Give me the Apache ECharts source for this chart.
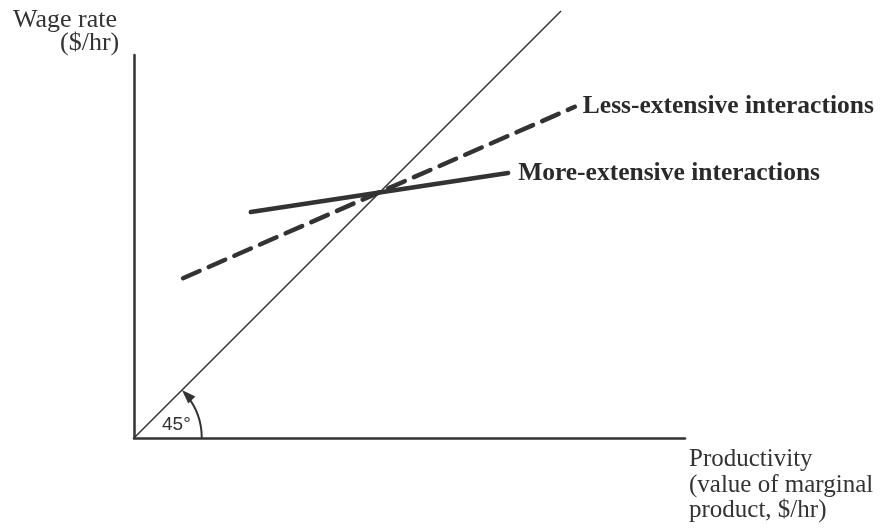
<!DOCTYPE html>
<html style="height: 100%">
<head>
    <title>Wage rate vs productivity</title>
    <meta charset="utf-8">
</head>
<body style="height: 100%; margin: 0; background: #fff">
<div id="container" style="height:528px;width:882px"></div>
<script src="https://cdn.jsdelivr.net/npm/echarts@6/dist/echarts.min.js"></script>
<script type="text/javascript">
    // data (productivity, wage rate) in arbitrary equal units
    var diagonal = [[0, 0], [77.5, 77.5]];
    var lessExtensive = [[8.9, 29.0], [80.0, 60.1]];
    var moreExtensive = [[21.2, 41.0], [67.9, 48.1]];
    var angleArc = [[0, 0, 12.3]];   // origin + radius of the 45 degree arc

    var ink = '#333';
    var serif = '"Liberation Serif", "DejaVu Serif", serif';

    var dom = document.getElementById("container");
    var myChart = echarts.init(dom);

    function renderArc(params, api) {
        var o = api.coord([api.value(0), api.value(1)]);
        var r = api.size([api.value(2), 0])[0];
        var a = Math.PI / 4;
        var tip = [o[0] + r * Math.cos(a), o[1] - r * Math.sin(a)];
        var d = [-Math.sin(a), -Math.cos(a)];   // tangent, counter-clockwise on screen
        var n = [-d[1], d[0]];
        var L = 14, w = 5;
        var base = [tip[0] - d[0] * L, tip[1] - d[1] * L];
        return {
            type: 'group',
            children: [
                {
                    type: 'arc',
                    shape: {cx: o[0], cy: o[1], r: r, startAngle: -a + 0.12, endAngle: 0, clockwise: true},
                    style: {stroke: ink, lineWidth: 2, fill: null}
                },
                {
                    type: 'polygon',
                    shape: {points: [tip, [base[0] + n[0] * w, base[1] + n[1] * w], [base[0] - n[0] * w, base[1] - n[1] * w]]},
                    style: {fill: ink}
                }
            ]
        };
    }

    var option = {
        backgroundColor: '#fff',
        animation: false,
        grid: {left: 134, right: 197, top: 55, bottom: 90},
        xAxis: {
            type: 'value', min: 0, max: 100,
            axisLine: {show: true, lineStyle: {color: ink, width: 2.5}},
            axisTick: {show: false}, axisLabel: {show: false}, splitLine: {show: false}
        },
        yAxis: {
            type: 'value', min: 0, max: 69.5,
            axisLine: {show: true, lineStyle: {color: ink, width: 2.5}},
            axisTick: {show: false}, axisLabel: {show: false}, splitLine: {show: false}
        },
        series: [
            {
                name: '45 degree', type: 'line', data: diagonal, clip: false,
                symbol: 'none', lineStyle: {color: ink, width: 1.5}
            },
            {
                name: 'Less-extensive interactions', type: 'line', data: lessExtensive,
                symbol: 'none',
                lineStyle: {color: ink, width: 4.5, type: [18, 10], cap: 'round'},
                endLabel: {
                    show: true, formatter: '{a}', distance: 8,
                    color: '#2a2a2a', fontFamily: serif, fontWeight: 'bold', fontSize: 25.5
                }
            },
            {
                name: 'More-extensive interactions', type: 'line', data: moreExtensive,
                symbol: 'none',
                lineStyle: {color: ink, width: 4.5, cap: 'round'},
                endLabel: {
                    show: true, formatter: '{a}', distance: 10,
                    color: '#2a2a2a', fontFamily: serif, fontWeight: 'bold', fontSize: 25.5
                }
            },
            {
                type: 'custom', data: angleArc, renderItem: renderArc, clip: false
            }
        ],
        graphic: [
            {
                type: 'text', left: 13, top: 7,
                style: {text: 'Wage rate', fill: ink, font: '26px ' + serif}
            },
            {
                type: 'text', left: 60, top: 30,
                style: {text: '($/hr)', fill: ink, font: '26px ' + serif}
            },
            {
                type: 'text', left: 162, top: 415,
                style: {text: '45°', fill: ink, font: '19px "Liberation Sans", Arial, sans-serif'}
            },
            {
                type: 'text', left: 689, top: 447,
                style: {
                    text: 'Productivity\n(value of marginal\nproduct, $/hr)',
                    fill: ink, font: '25px ' + serif, lineHeight: 25.5
                }
            }
        ]
    };
    myChart.setOption(option);
</script>
</body>
</html>
